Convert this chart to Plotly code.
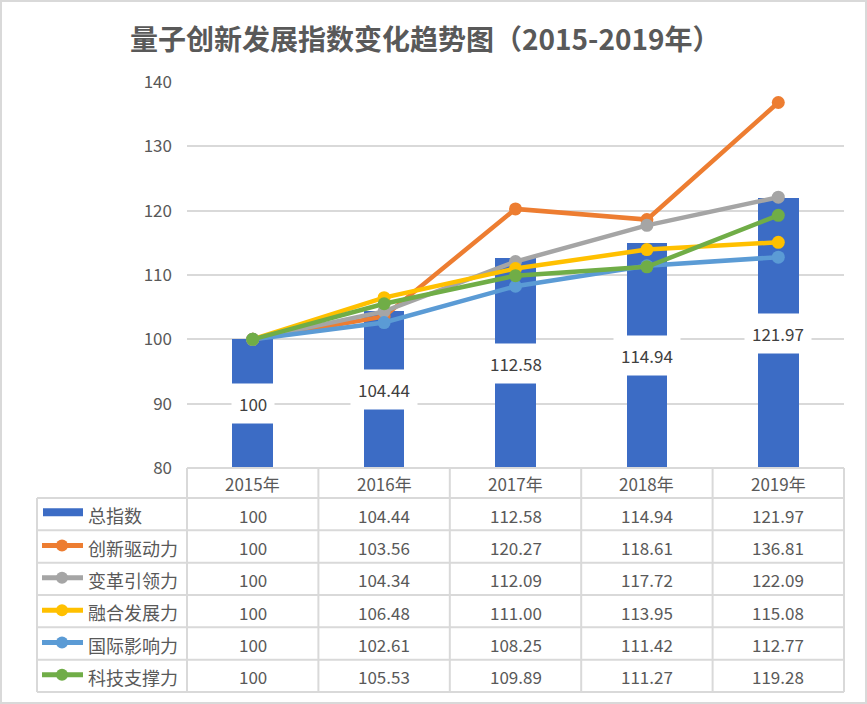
import plotly.graph_objects as go

years = ["2015年", "2016年", "2017年", "2018年", "2019年"]
total_name = "总指数"
total_values = [100, 104.44, 112.58, 114.94, 121.97]
series_names = ["创新驱动力", "变革引领力", "融合发展力", "国际影响力", "科技支撑力"]
s_innovation = [100, 103.56, 120.27, 118.61, 136.81]
s_reform = [100, 104.34, 112.09, 117.72, 122.09]
s_fusion = [100, 106.48, 111.00, 113.95, 115.08]
s_intl = [100, 102.61, 108.25, 111.42, 112.77]
s_tech = [100, 105.53, 109.89, 111.27, 119.28]
series_values = [s_innovation, s_reform, s_fusion, s_intl, s_tech]
series_colors = ["#ED7D31", "#A5A5A5", "#FFC000", "#5B9BD5", "#70AD47"]
bar_color = "#3C6CC5"
y_min, y_max = 80, 140

W, H = 867, 704
L, R, T, B = 187, 23, 82, 236
PW = W - L - R
PH = H - T - B
FONT = "Noto Sans CJK SC"
TXT = "#595959"
GRID = "#D9D9D9"


def px(x):
    return (x - L) / PW


def py(y):
    return (H - B - y) / PH


fig = go.Figure()
xs = list(range(len(years)))
fig.add_trace(go.Bar(x=xs, y=[v - y_min for v in total_values], base=y_min, width=0.31,
                     marker=dict(color=bar_color, line=dict(width=0)), name=total_name))
for name, vals, col in zip(series_names, series_values, series_colors):
    fig.add_trace(go.Scatter(x=xs, y=vals, mode="lines+markers", name=name,
                             line=dict(color=col, width=4.5),
                             marker=dict(color=col, size=13), cliponaxis=False))

annotations = []
shapes = []
for i, v in enumerate(total_values):
    annotations.append(dict(x=i, y=(y_min + v) / 2, xref="x", yref="y", text=f"{v:g}",
                            xanchor="center", yanchor="middle",
                            showarrow=False, bgcolor="white", borderpad=7,
                            font=dict(family=FONT, size=17, color="#404040")))

col_edges = [L + PW * k / len(years) for k in range(len(years) + 1)]
header_top, header_bot = 468, 498
row_h = (692 - 498) / 6
row_edges = [header_bot + row_h * k for k in range(7)]
left_x = 37
line_style = dict(color=GRID, width=2)
for cx in col_edges:
    shapes.append(dict(type="line", xref="paper", yref="paper", x0=px(cx), x1=px(cx),
                       y0=py(header_top), y1=py(row_edges[-1]), line=line_style))
shapes.append(dict(type="line", xref="paper", yref="paper", x0=px(left_x), x1=px(left_x),
                   y0=py(row_edges[0]), y1=py(row_edges[-1]), line=line_style))
shapes.append(dict(type="line", xref="paper", yref="paper", x0=px(L), x1=px(col_edges[-1]),
                   y0=py(header_top), y1=py(header_top), line=line_style))
for ry in row_edges:
    shapes.append(dict(type="line", xref="paper", yref="paper", x0=px(left_x), x1=px(col_edges[-1]),
                       y0=py(ry), y1=py(ry), line=line_style))

for k, yr in enumerate(years):
    cx = (col_edges[k] + col_edges[k + 1]) / 2
    annotations.append(dict(x=px(cx), y=py((header_top + header_bot) / 2 + 1), xref="paper", yref="paper",
                            xanchor="center", yanchor="middle",
                            text=yr, showarrow=False, font=dict(family=FONT, size=17, color=TXT)))


def fmt(v):
    return "100" if v == 100 else f"{v:.2f}"


all_names = [total_name] + series_names
all_vals = [total_values] + series_values
for r, (nm, vals) in enumerate(zip(all_names, all_vals)):
    cy = (row_edges[r] + row_edges[r + 1]) / 2
    for k, v in enumerate(vals):
        cx = (col_edges[k] + col_edges[k + 1]) / 2
        annotations.append(dict(x=px(cx), y=py(cy + 1), xref="paper", yref="paper", text=fmt(v),
                                xanchor="center", yanchor="middle",
                                showarrow=False, font=dict(family=FONT, size=17, color=TXT)))
    annotations.append(dict(x=px(86), y=py(cy + 1), xref="paper", yref="paper", text=nm,
                            xanchor="left", yanchor="middle", showarrow=False,
                            font=dict(family=FONT, size=18, color=TXT)))
    if r == 0:
        shapes.append(dict(type="rect", xref="paper", yref="paper", x0=px(43), x1=px(83),
                           y0=py(cy - 6), y1=py(cy + 2), fillcolor=bar_color, line=dict(width=0)))
    else:
        col = series_colors[r - 1]
        shapes.append(dict(type="line", xref="paper", yref="paper", x0=px(42), x1=px(83),
                           y0=py(cy - 1), y1=py(cy - 1), line=dict(color=col, width=5)))
        rr = 6
        shapes.append(dict(type="circle", xref="paper", yref="paper", x0=px(62 - rr), x1=px(62 + rr),
                           y0=py(cy - 1 + rr), y1=py(cy - 1 - rr), fillcolor=col, line=dict(width=0)))

shapes.append(dict(type="rect", xref="paper", yref="paper", x0=px(1), x1=px(W - 1),
                   y0=py(1), y1=py(H - 1), line=dict(color=GRID, width=2)))

annotations.append(dict(x=px(425), y=py(38), xref="paper", yref="paper",
                        xanchor="center", yanchor="middle",
                        text="<b>量子创新发展指数变化趋势图（2015-2019年）</b>", showarrow=False,
                        font=dict(family=FONT, size=28, color=TXT)))

fig.update_layout(
    width=W, height=H, margin=dict(l=L, r=R, t=T, b=B),
    paper_bgcolor="white", plot_bgcolor="white", showlegend=False,
    font=dict(family=FONT, color=TXT),
    xaxis=dict(range=[-0.5, len(years) - 0.5], showticklabels=False, showgrid=False,
               zeroline=False, showline=False, fixedrange=True),
    yaxis=dict(range=[y_min, y_max], dtick=10, gridcolor=GRID, gridwidth=1.5, zeroline=False,
               showline=False, tickfont=dict(family=FONT, size=17, color=TXT), ticklen=0,
               ticklabelstandoff=14),
    shapes=shapes, annotations=annotations, bargap=0,
)
fig.write_html("out.html", config={"displayModeBar": False},
               post_script="document.body.style.margin='0';document.body.style.overflow='hidden';")
